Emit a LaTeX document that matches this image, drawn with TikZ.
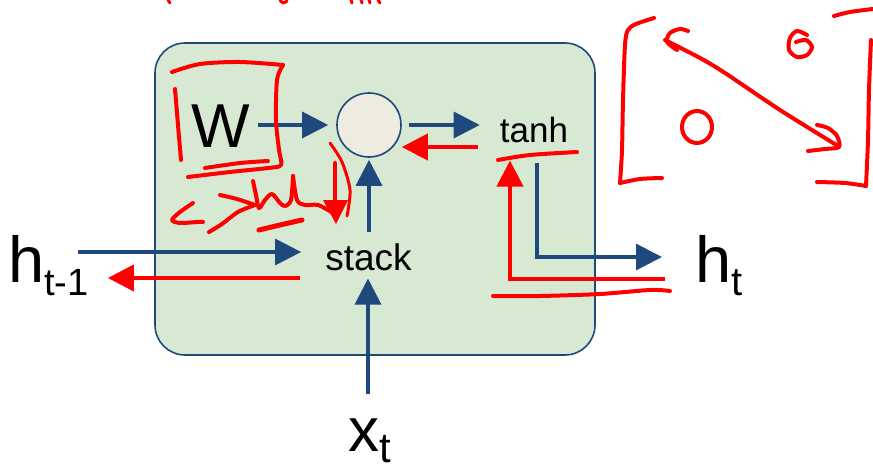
\documentclass[tikz,border=0pt]{standalone}
\usepackage{fontspec}
\setmainfont{Liberation Sans}
\usetikzlibrary{arrows.meta}
\definecolor{dblue}{HTML}{1F497D}
\definecolor{lgreen}{HTML}{D8E9D3}
\definecolor{cfill}{HTML}{EEECE1}
\definecolor{hred}{HTML}{FF0000}
\tikzset{
  flow/.style={draw=dblue, line width=3.2pt, -{Triangle[length=26pt,width=26pt]}},
  back/.style={draw=hred, line width=4pt, -{Triangle[length=26pt,width=26pt]}},
  ink/.style={draw=hred, line width=4pt, line cap=round, line join=round},
  lbl/.style={inner sep=0pt, text=black},
  cellbox/.style={draw=dblue, fill=lgreen, line width=1.6pt, rounded corners=30pt, inner sep=0pt},
}
\begin{document}
\begin{tikzpicture}[x=1pt,y=-1pt]
\useasboundingbox (0,0) rectangle (873,468);
% cell
\node[cellbox, minimum width=440pt, minimum height=312pt] (cell) at (375,199) {};
% nodes
\node[draw=dblue, fill=cfill, line width=1.6pt, circle, minimum size=64pt, inner sep=0pt] (circ) at (369,125) {};
\node[lbl, anchor=base, font=\fontsize{62}{62}\selectfont] (W) at (221,148) {W};
\node[lbl, anchor=base, font=\fontsize{37}{37}\selectfont] (stack) at (368.5,270) {stack};
\node[lbl, anchor=base, font=\fontsize{35}{35}\selectfont] (tanh) at (534,143) {tanh};
\node[lbl, anchor=base west] (hprev) at (8,282) {\fontsize{65}{65}\selectfont h\raisebox{-13pt}{\fontsize{38}{38}\selectfont t-1}};
\node[lbl, anchor=base west] (ht) at (695,282) {\fontsize{65}{65}\selectfont h\raisebox{-13pt}{\fontsize{40}{40}\selectfont t}};
\node[lbl, anchor=base west] (xt) at (348,451) {\fontsize{62}{62}\selectfont x\raisebox{-11pt}{\fontsize{42}{42}\selectfont t}};
% helper coordinates
\coordinate (hin) at (78,252);
\coordinate (hback) at (300,278);
\coordinate (c1) at (537,257);
\coordinate (c2) at (510,279);
\coordinate (rb) at (478,147);
% blue forward connectors
\draw[flow, shorten <=8pt, shorten >=8pt] (W.east |- circ.west) -- (circ.west);
\draw[flow, shorten <=7pt, shorten >=20pt] (circ.east) -- (tanh.west |- circ.east);
\draw[flow, shorten <=11pt, shorten >=2pt] (stack.north -| circ.south) -- (circ.south);
\draw[flow, shorten <=24pt, shorten >=8pt] (xt.north -| 368,0) -- (stack.south -| 368,0);
\draw[flow, shorten >=24pt] (hin) -- (stack.west |- hin);
\draw[flow, shorten <=19pt, shorten >=33pt] (c1 |- tanh.south) -- (c1) -- (ht.west |- c1);
% red backward connectors
\draw[back, shorten >=19pt] (hback) -- (hprev.east |- hback);
\draw[back] (rb) -- (circ.east |- rb);
\draw[back, shorten <=30pt, shorten >=17pt] (ht.west |- c2) -- (c2) -- (c2 |- tanh.south);
% handwriting: box around W
\draw[ink] plot[smooth] coordinates {(172,72)(200,64)(240,62)(283,65)};
\draw[ink] plot[smooth] coordinates {(283,65)(277,80)(276,120)(279,150)(281,165)(268,168)(230,172)(188,177)};
\draw[ink] plot[smooth] coordinates {(205,168)(240,163)(268,161)};
\draw[ink] plot[smooth] coordinates {(175,89)(178,125)(181,160)};
% scribble
\draw[ink] plot[smooth] coordinates {(193,203)(180,212)(172,220)(180,223)(197,222)(203,222)};
\draw[ink] plot[smooth] coordinates {(209,232)(222,224)(238,212)(255,205)};
\draw[ink] plot[smooth] coordinates {(220,195)(237,199)(255,205)};
\draw[ink] plot[smooth] coordinates {(253,181)(256,195)(259,208)(265,200)(272,194)(280,203)(285,206)(291,200)(293,176)};
\draw[ink] plot[smooth] coordinates {(293,176)(297,200)(305,205)(318,205)(333,213)};
\draw[ink, line width=5pt] plot[smooth] coordinates {(259,230)(280,225)(302,220)};
% red down arrow
\draw[ink] (335,163) -- (335,215);
\fill[hred] (323,200) -- (348,200) -- (336,224) -- cycle;
\draw[ink, line width=3pt] plot[smooth] coordinates {(330,143)(342,162)(350,190)(347,216)};
% underlines
\draw[ink] plot[smooth] coordinates {(498,160)(530,155)(577,152)};
\draw[ink] plot[smooth] coordinates {(493,296)(540,296)(600,294)(650,290)(670,291)};
% matrix sketch
\draw[ink] plot[smooth] coordinates {(654,18)(636,24)(628,30)(625,45)(623,100)(622,150)(620,183)};
\draw[ink] plot[smooth] coordinates {(620,183)(640,179)(662,178)};
\draw[ink] plot[smooth] coordinates {(834,16)(850,12)(873,9)};
\draw[ink] plot[smooth] coordinates {(871,40)(869,90)(868,140)(866,186)};
\draw[ink] plot[smooth] coordinates {(866,186)(845,183)(817,182)};
\draw[ink] plot[smooth] coordinates {(665,40)(700,58)(725,73)(780,110)(838,146)};
\draw[ink] plot[smooth] coordinates {(677,50)(667,42)(670,33)(680,29)(688,31)};
\draw[ink] plot[smooth] coordinates {(808,151)(825,149)(839,147)(837,136)(828,128)(817,125)};
\draw[ink] (697,127) ellipse [x radius=15, y radius=16];
\draw[ink] plot[smooth] coordinates {(807,35)(797,31)(790,38)(789,50)(797,57)(807,55)(812,47)(806,40)(796,42)};
% cut-off text fragments at top
\draw[ink, line width=3pt] (168,0) -- (170,3);
\draw[ink, line width=3pt] plot[smooth] coordinates {(280,0)(283,3)(287,1)};
\draw[ink, line width=3pt] (351,0) -- (352,3);
\draw[ink, line width=3pt] (361,0) -- (362,3);
\draw[ink, line width=3pt] (369,0) -- (370,3);
\draw[ink, line width=3pt] (378,0) -- (380,3);
\end{tikzpicture}
\end{document}
